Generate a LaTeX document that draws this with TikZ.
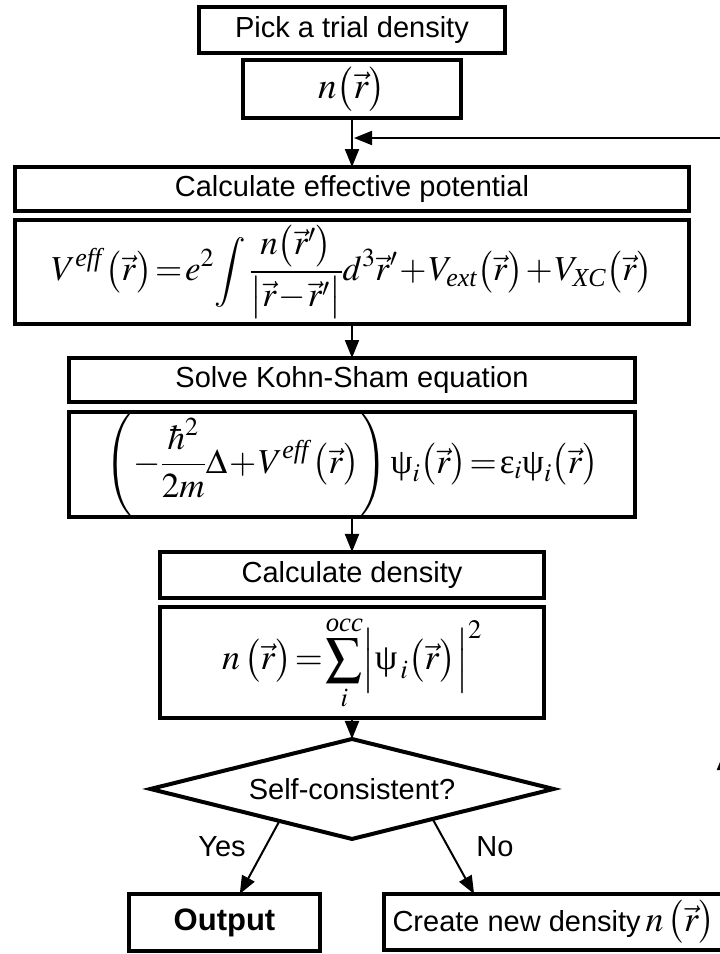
\documentclass[tikz,border=0pt]{standalone}
\usepackage{amsmath}
\usepackage{mathptmx}
\usepackage[no-math]{fontspec}
\setmainfont{Liberation Sans}
\newfontfamily\timesfont{Liberation Serif}
\usetikzlibrary{arrows.meta,positioning,shapes.geometric,calc}

\newcommand{\rv}{\vec{r}}
\newcommand{\ti}[1]{\text{\timesfont\itshape #1}}
\newcommand{\wpsi}{\text{\timesfont ψ}}
\newcommand{\weps}{\text{\timesfont ε}}
\newcommand{\tightm}{\thickmuskip=1.5mu\relax\medmuskip=1mu\relax}

\begin{document}
\begin{tikzpicture}[x=1pt,y=-1pt,
  box/.style={
    rectangle, draw, line width=4pt, inner sep=0pt, outer sep=0pt,
    minimum height=44pt, font=\fontsize{29}{34}\selectfont, align=center},
  eqbox/.style={box, font=\fontsize{35}{40}\selectfont},
  decision/.style={
    diamond, draw, line width=4pt, inner sep=0pt, outer sep=0pt, aspect=4,
    minimum width=403pt, minimum height=100pt,
    font=\fontsize{29}{34}\selectfont},
  lbl/.style={font=\fontsize{29}{34}\selectfont},
  arr/.style={-{Triangle[length=18pt,width=14pt]}, line width=2pt}
]
  \fill[white] (0,0) rectangle (720,954);
  \useasboundingbox (0,0) rectangle (720,954);
  \clip (0,0) rectangle (720,954);

  % main column
  \node[box, line width=4.5pt, minimum width=306pt, minimum height=46pt] (pick) at (352,30)
    {Pick a trial density};
  \node[eqbox, line width=3.5pt, minimum width=218pt, minimum height=58pt,
        below=7pt of pick, font=\fontsize{37}{40}\selectfont] (trial) {$n\bigl(\rv\bigr)$};
  \node[box, minimum width=674pt, below=49pt of trial] (calcpot)
    {Calculate effective potential};
  \node[eqbox, minimum width=674pt, minimum height=104pt, below=9pt of calcpot] (veff)
    {$\tightm\displaystyle V^{\ti{eff}}\,\bigl(\rv\bigr)=e^2\!\int\frac{n\bigl(\rv'\bigr)}{\bigl|\rv-\rv'\bigr|}d^{3}\rv'+V_{\ti{ext}}\bigl(\rv\bigr)+V_{\ti{XC}}\bigl(\rv\bigr)$};
  \node[box, minimum width=566pt, below=34pt of veff] (solve)
    {Solve Kohn-Sham equation};
  \node[eqbox, minimum width=566pt, minimum height=101pt, below=10pt of solve] (ks)
    {$\tightm\displaystyle \left(-\frac{\hbar^2}{2m}\Delta+V^{\ti{eff}}\,\bigl(\rv\bigr)\right)\wpsi_{i}\bigl(\rv\bigr)=\weps_i\wpsi_i\bigl(\rv\bigr)$};
  \node[box, minimum width=384pt, minimum height=46pt, below=35pt of ks] (dens)
    {Calculate density};
  \node[eqbox, minimum width=384pt, minimum height=111pt, below=9pt of dens,
        font=\fontsize{36}{40}\selectfont] (ndens)
    {$\tightm\displaystyle n\,\bigl(\rv\bigr)=\sum_i^{\ti{occ}}\Bigl|\wpsi_{\,i}\bigl(\rv\bigr)\Bigr|^2$};
  \node[decision, below=21pt of ndens] (check) {Self-consistent?};

  % outcomes
  \node[box, minimum width=191pt, minimum height=57pt, font=\fontsize{31}{36}\selectfont\bfseries]
    (result) at (224.5,922.5) {Output};
  \node[box, minimum width=340pt, minimum height=56pt] (newdens) at (554,922)
    {Create new density\,{\fontsize{36}{40}\selectfont$n\,\bigl(\rv\bigr)$}};
  \node[lbl] (yes) at (222,847) {Yes};
  \node[lbl] (no) at (495,847) {No};

  \draw[arr] (trial) -- (calcpot);
  \draw[arr] (veff) -- (solve);
  \draw[arr] (ks) -- (dens);
  \draw[arr] (ndens) -- (check);
  \draw[arr] ($(check.west)!0.64!(check.south)$) -- ($(result.north west)!0.58!(result.north east)$);
  \draw[arr] ($(check.south)!0.4!(check.east)$) -- ($(newdens.north west)!0.265!(newdens.north east)$);

  % feedback loop
  \coordinate (turn) at (724,138);
  \coordinate (join) at (354,138);
  \coordinate (upmid) at (724,752);
  \draw[arr] (newdens.east) -- (upmid);
  \draw[arr] (upmid) -- (turn) -- (join);
\end{tikzpicture}
\end{document}
